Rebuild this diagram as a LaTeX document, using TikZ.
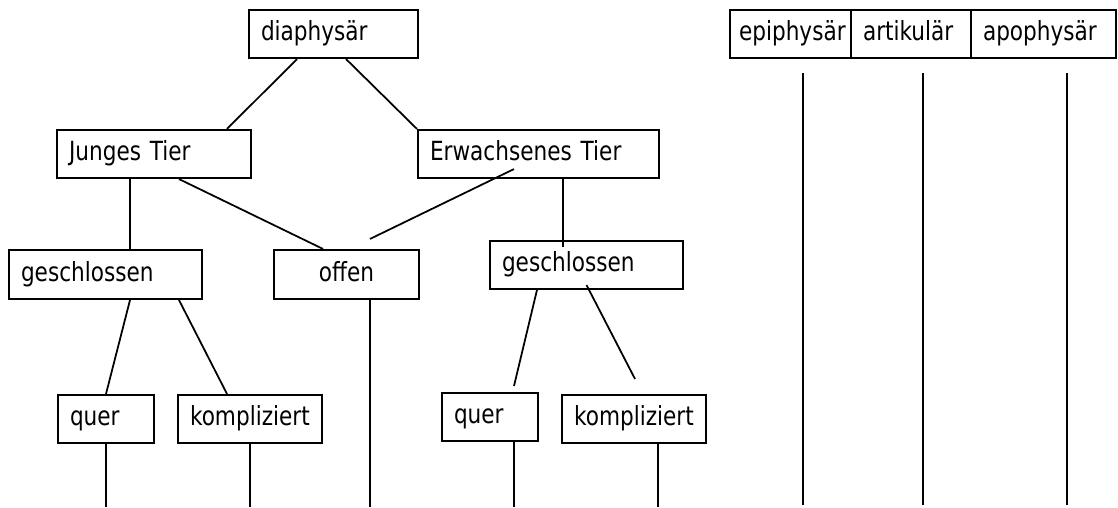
\documentclass[tikz,border=0pt]{standalone}
\usepackage{fontspec}
\setmainfont{DejaVu Sans}[FakeStretch=0.82]
\usetikzlibrary{calc}

\begin{document}
\begin{tikzpicture}[
    x=0.02cm, y=-0.02cm,
    term/.style={draw=black, line width=1.2pt, minimum height=0.96cm,
        inner xsep=0.24cm, inner ysep=0pt, text width=#1, align=left,
        text height=11pt, text depth=3.6pt,
        font=\fontsize{15pt}{18pt}\selectfont},
    link/.style={draw=black, line width=1pt}
]
    \useasboundingbox (0,0) rectangle (1118,507);
    \coordinate (bottom) at (0,507);

    % Top
    \node[term=2.90cm] (dia) at (333.5,34) {diaphysär};

    % Age
    \node[term=3.40cm] (jung) at (154,154) {Junges Tier};
    \node[term=4.34cm] (erw) at (538.5,154) {Erwachsenes Tier};

    % Open / closed
    \node[term=3.38cm, minimum height=0.98cm] (gesL) at (105.5,274.5) {geschlossen};
    \node[term=2.42cm, align=center, minimum height=0.98cm] (offen) at (346.5,274.5) {offen};
    \node[term=3.38cm] (gesR) at (586.5,265) {geschlossen};

    % Fracture type
    \node[term=1.44cm] (querL) at (106,419) {quer};
    \node[term=2.40cm] (kompL) at (250,419) {kompliziert};
    \node[term=1.44cm] (querR) at (490,417) {quer};
    \node[term=2.40cm] (kompR) at (634,419) {kompliziert};

    % Other localisations
    \node[term=2.06cm, inner xsep=0.18cm] (epi) at (790.5,34) {epiphysär};
    \node[term=1.92cm] (art) at (911,34) {artikulär};
    \node[term=2.42cm] (apo) at (1043.5,34) {apophysär};

    % Connections
    \draw[link] ($(dia.south)+(-36.5,0)$) -- ($(jung.north)+(73,0)$);
    \draw[link] ($(dia.south)+(12.5,0)$) -- (erw.north west);

    \draw[link] ($(jung.south)+(-24,0)$) -- ($(gesL.north)+(24.5,0)$);
    \draw[link] ($(jung.south)+(25,0)$) -- ($(offen.north)+(-23.5,0)$);
    \draw[link] ($(erw.south)+(-24.5,-10)$) -- ($(offen.north)+(23.5,-10)$);
    \draw[link] ($(erw.south)+(24.5,0)$) -- ($(gesR.north)+(-23.5,7)$);

    \draw[link] ($(gesL.south)+(24.5,0)$) -- (querL.north);
    \draw[link] ($(gesL.south)+(73.5,0)$) -- ($(kompL.north)+(-23,0)$);
    \draw[link] (gesR.south west) ++(48,0) -- ($(querR.north)+(24,-6)$);
    \draw[link] ($(gesR.south)+(0,-5)$) -- ($(kompR.north)+(1,-15)$);

    % Down to the bottom
    \draw[link] ($(offen.south)+(23.5,0)$) coordinate (o1) -- (o1 |- bottom);
    \draw[link] (querL.south) -- (querL.south |- bottom);
    \draw[link] (kompL.south) -- (kompL.south |- bottom);
    \draw[link] ($(querR.south)+(24,0)$) coordinate (q2) -- (q2 |- bottom);
    \draw[link] ($(kompR.south)+(24,0)$) coordinate (k2) -- (k2 |- bottom);

    \foreach \n/\dx in {epi/12.5, art/12, apo/23.5}
        \draw[link] ($(\n.south)+(\dx,14)$) coordinate (\n1) -- ($(\n1 |- bottom)+(0,-2)$);
\end{tikzpicture}
\end{document}
